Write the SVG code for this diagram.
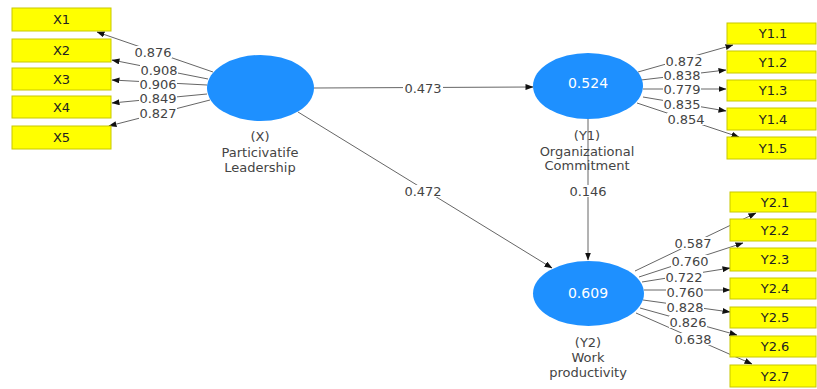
<svg xmlns="http://www.w3.org/2000/svg" width="817" height="389" viewBox="0 0 817 389">
<defs>
<marker id="ah" markerWidth="8" markerHeight="6" refX="7.5" refY="3" orient="auto" markerUnits="userSpaceOnUse">
<path d="M0,0 L8,3 L0,6 z" fill="#111"/>
</marker>
<style>
.box{fill:#ffff00;stroke:#c8c800;stroke-width:1}
.bt{font-family:"DejaVu Sans",sans-serif;font-size:13px;fill:#222;text-anchor:middle}
.lv{fill:#1e90ff}
.vt{font-family:"DejaVu Sans",sans-serif;font-size:14px;fill:#ffffff;text-anchor:middle}
.nl{font-family:"DejaVu Sans",sans-serif;font-size:13px;fill:#444;text-anchor:middle}
.ln{stroke:#666;stroke-width:1;fill:none;marker-end:url(#ah)}
.bg{fill:#fff}
.el{font-family:"DejaVu Sans",sans-serif;font-size:13px;fill:#444;text-anchor:middle}
</style>
</defs>
<rect width="817" height="389" fill="#fff"/>
<g id="connectors">
<line class="ln" x1="213" y1="72" x2="97" y2="32"/>
<line class="ln" x1="208" y1="79" x2="112" y2="60"/>
<line class="ln" x1="207" y1="85" x2="112" y2="80"/>
<line class="ln" x1="207" y1="94" x2="112" y2="103"/>
<line class="ln" x1="210" y1="100" x2="109" y2="126"/>
<line class="ln" x1="638" y1="72" x2="733" y2="45"/>
<line class="ln" x1="641" y1="80" x2="726" y2="70"/>
<line class="ln" x1="643" y1="89" x2="726" y2="89"/>
<line class="ln" x1="643" y1="97" x2="726" y2="111"/>
<line class="ln" x1="637" y1="103" x2="739" y2="137"/>
<line class="ln" x1="635" y1="271" x2="756" y2="213"/>
<line class="ln" x1="639" y1="277" x2="743" y2="243"/>
<line class="ln" x1="642" y1="282" x2="730" y2="268"/>
<line class="ln" x1="644" y1="290" x2="730" y2="290"/>
<line class="ln" x1="643" y1="300" x2="730" y2="312"/>
<line class="ln" x1="640" y1="308" x2="737" y2="335"/>
<line class="ln" x1="636" y1="313" x2="752" y2="364"/>
<line class="ln" x1="314" y1="88" x2="533" y2="87"/>
<line class="ln" x1="298" y1="112" x2="552" y2="268"/>
<line class="ln" x1="588" y1="119" x2="588" y2="260"/>
<rect class="bg" x="134" y="46" width="38" height="12"/>
<rect class="bg" x="140" y="64" width="38" height="12"/>
<rect class="bg" x="139" y="78" width="38" height="12"/>
<rect class="bg" x="139" y="92" width="38" height="12"/>
<rect class="bg" x="139" y="107" width="38" height="12"/>
<rect class="bg" x="665" y="55" width="38" height="12"/>
<rect class="bg" x="663" y="69" width="38" height="12"/>
<rect class="bg" x="663" y="83" width="38" height="12"/>
<rect class="bg" x="663" y="98" width="38" height="12"/>
<rect class="bg" x="667" y="113" width="38" height="12"/>
<rect class="bg" x="674" y="237" width="38" height="12"/>
<rect class="bg" x="671" y="255" width="38" height="12"/>
<rect class="bg" x="665" y="271" width="38" height="12"/>
<rect class="bg" x="666" y="286" width="38" height="12"/>
<rect class="bg" x="666" y="301" width="38" height="12"/>
<rect class="bg" x="669" y="316" width="38" height="12"/>
<rect class="bg" x="674" y="333" width="38" height="12"/>
<rect class="bg" x="403" y="82" width="40" height="12"/>
<rect class="bg" x="403" y="185" width="40" height="12"/>
<rect class="bg" x="568" y="185" width="40" height="12"/>
<text class="el" x="153" y="56.5">0.876</text>
<text class="el" x="159" y="74.5">0.908</text>
<text class="el" x="158" y="88.5">0.906</text>
<text class="el" x="158" y="102.5">0.849</text>
<text class="el" x="158" y="117.5">0.827</text>
<text class="el" x="684" y="65.5">0.872</text>
<text class="el" x="682" y="79.5">0.838</text>
<text class="el" x="682" y="93.5">0.779</text>
<text class="el" x="682" y="108.5">0.835</text>
<text class="el" x="686" y="123.5">0.854</text>
<text class="el" x="693" y="247.5">0.587</text>
<text class="el" x="690" y="265.5">0.760</text>
<text class="el" x="684" y="281.5">0.722</text>
<text class="el" x="685" y="296.5">0.760</text>
<text class="el" x="685" y="311.5">0.828</text>
<text class="el" x="688" y="326.5">0.826</text>
<text class="el" x="693" y="343.5">0.638</text>
<text class="el" x="423" y="92.5">0.473</text>
<text class="el" x="423" y="195.5">0.472</text>
<text class="el" x="588" y="195.5">0.146</text>
</g>
<g id="X">
<ellipse class="lv" cx="260.5" cy="88" rx="53.5" ry="33"/>
<text class="nl" x="260" y="141">(X)</text>
<text class="nl" x="260" y="157">Particivatife</text>
<text class="nl" x="260" y="172">Leadership</text>
</g>
<g id="Y1">
<ellipse class="lv" cx="588" cy="86" rx="55" ry="33"/>
<text class="vt" x="588" y="88">0.524</text>
<text class="nl" x="587" y="140">(Y1)</text>
<text class="nl" x="587" y="156">Organizational</text>
<text class="nl" x="587" y="170">Commitment</text>
</g>
<g id="Y2">
<ellipse class="lv" cx="588.5" cy="293.5" rx="55.5" ry="32.5"/>
<text class="vt" x="588" y="298">0.609</text>
<text class="nl" x="588" y="347">(Y2)</text>
<text class="nl" x="588" y="362">Work</text>
<text class="nl" x="588" y="377">productivity</text>
</g>
<g id="X1"><rect class="box" x="12" y="8" width="99" height="23"/><text class="bt" x="61.5" y="24">X1</text></g>
<g id="X2"><rect class="box" x="12" y="39" width="99" height="23"/><text class="bt" x="61.5" y="55">X2</text></g>
<g id="X3"><rect class="box" x="12" y="68" width="99" height="22"/><text class="bt" x="61.5" y="83.5">X3</text></g>
<g id="X4"><rect class="box" x="12" y="96" width="99" height="22"/><text class="bt" x="61.5" y="111.5">X4</text></g>
<g id="X5"><rect class="box" x="12" y="126" width="99" height="23"/><text class="bt" x="61.5" y="142">X5</text></g>
<g id="Y1.1"><rect class="box" x="727" y="23" width="89" height="21"/><text class="bt" x="773" y="38">Y1.1</text></g>
<g id="Y1.2"><rect class="box" x="727" y="51" width="89" height="22"/><text class="bt" x="773" y="66.5">Y1.2</text></g>
<g id="Y1.3"><rect class="box" x="727" y="80" width="89" height="21"/><text class="bt" x="773" y="95">Y1.3</text></g>
<g id="Y1.4"><rect class="box" x="727" y="108" width="89" height="22"/><text class="bt" x="773" y="123.5">Y1.4</text></g>
<g id="Y1.5"><rect class="box" x="727" y="137" width="89" height="22"/><text class="bt" x="773" y="152.5">Y1.5</text></g>
<g id="Y2.1"><rect class="box" x="730" y="192" width="86" height="20"/><text class="bt" x="775" y="206.5">Y2.1</text></g>
<g id="Y2.2"><rect class="box" x="730" y="219" width="86" height="22"/><text class="bt" x="775" y="234.5">Y2.2</text></g>
<g id="Y2.3"><rect class="box" x="730" y="248" width="86" height="23"/><text class="bt" x="775" y="264">Y2.3</text></g>
<g id="Y2.4"><rect class="box" x="730" y="278" width="86" height="21"/><text class="bt" x="775" y="293">Y2.4</text></g>
<g id="Y2.5"><rect class="box" x="730" y="307" width="86" height="21"/><text class="bt" x="775" y="322">Y2.5</text></g>
<g id="Y2.6"><rect class="box" x="730" y="336" width="86" height="21"/><text class="bt" x="775" y="351">Y2.6</text></g>
<g id="Y2.7"><rect class="box" x="730" y="365" width="86" height="22"/><text class="bt" x="775" y="380.5">Y2.7</text></g>
</svg>
